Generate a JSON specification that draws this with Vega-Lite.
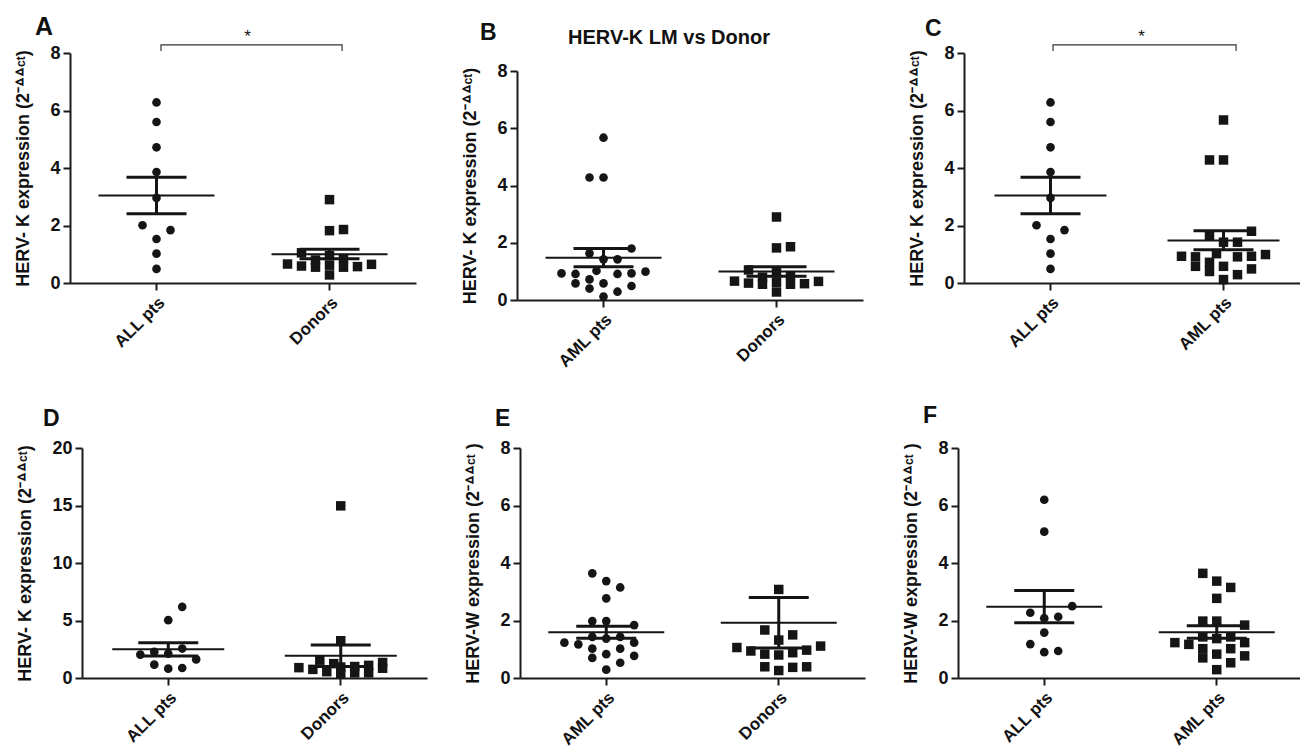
{
  "$schema": "https://vega.github.io/schema/vega-lite/v6.json",
  "autosize": "none",
  "padding": {"left": 70, "top": 53, "right": 1230, "bottom": 697},
  "background": "white",
  "datasets": {
    "A": [
      {"g":"ALL pts","v":6.28,"j":0},{"g":"ALL pts","v":5.6,"j":0},{"g":"ALL pts","v":4.72,"j":0},{"g":"ALL pts","v":3.86,"j":0},{"g":"ALL pts","v":2.96,"j":0},{"g":"ALL pts","v":2.01,"j":-1},{"g":"ALL pts","v":1.84,"j":1},{"g":"ALL pts","v":1.53,"j":0},{"g":"ALL pts","v":1.02,"j":0},{"g":"ALL pts","v":0.49,"j":0},
      {"g":"Donors","v":2.9,"j":0},{"g":"Donors","v":1.82,"j":0},{"g":"Donors","v":1.86,"j":1},{"g":"Donors","v":1.05,"j":-2},{"g":"Donors","v":0.8,"j":-1},{"g":"Donors","v":0.95,"j":0},{"g":"Donors","v":0.85,"j":1},{"g":"Donors","v":0.66,"j":-3},{"g":"Donors","v":0.59,"j":-2},{"g":"Donors","v":0.55,"j":-1},{"g":"Donors","v":0.62,"j":0},{"g":"Donors","v":0.55,"j":1},{"g":"Donors","v":0.57,"j":2},{"g":"Donors","v":0.65,"j":3},{"g":"Donors","v":0.28,"j":0}
    ],
    "As": [{"g":"ALL pts","m":3.04,"lo":2.41,"hi":3.68},{"g":"Donors","m":1.0,"lo":0.84,"hi":1.17}],
    "Aa": [{"g":"ALL pts","j":0.32,"y":8.07,"o":1},{"g":"ALL pts","j":0.32,"y":8.28,"o":2},{"g":"Donors","j":0.9,"y":8.28,"o":3},{"g":"Donors","j":0.9,"y":8.07,"o":4}],
    "At": [{"g":"ALL pts","j":6.5,"y":8.38,"t":"*"}],
    "B": [
      {"g":"AML pts","v":5.67,"j":0},{"g":"AML pts","v":4.28,"j":-1},{"g":"AML pts","v":4.28,"j":0},{"g":"AML pts","v":1.8,"j":2},{"g":"AML pts","v":1.63,"j":-1},{"g":"AML pts","v":1.42,"j":0},{"g":"AML pts","v":1.42,"j":1},{"g":"AML pts","v":0.93,"j":-3},{"g":"AML pts","v":0.91,"j":-2},{"g":"AML pts","v":1.02,"j":-0.5},{"g":"AML pts","v":0.91,"j":1},{"g":"AML pts","v":0.93,"j":2},{"g":"AML pts","v":0.99,"j":3},{"g":"AML pts","v":0.58,"j":-2},{"g":"AML pts","v":0.72,"j":-1},{"g":"AML pts","v":0.58,"j":0},{"g":"AML pts","v":0.49,"j":2},{"g":"AML pts","v":0.4,"j":-1},{"g":"AML pts","v":0.29,"j":1},{"g":"AML pts","v":0.12,"j":0},
      {"g":"Donors","v":2.9,"j":0},{"g":"Donors","v":1.82,"j":0},{"g":"Donors","v":1.86,"j":1},{"g":"Donors","v":1.05,"j":-2},{"g":"Donors","v":0.8,"j":-1},{"g":"Donors","v":0.95,"j":0},{"g":"Donors","v":0.85,"j":1},{"g":"Donors","v":0.66,"j":-3},{"g":"Donors","v":0.59,"j":-2},{"g":"Donors","v":0.55,"j":-1},{"g":"Donors","v":0.62,"j":0},{"g":"Donors","v":0.55,"j":1},{"g":"Donors","v":0.57,"j":2},{"g":"Donors","v":0.65,"j":3},{"g":"Donors","v":0.28,"j":0}
    ],
    "Bs": [{"g":"AML pts","m":1.48,"lo":1.16,"hi":1.8},{"g":"Donors","m":1.0,"lo":0.83,"hi":1.16}],
    "Bt": [{"g":"AML pts","j":4.68,"y":8.94,"t":"HERV-K LM vs Donor"}],
    "C": [
      {"g":"ALL pts","v":6.28,"j":0},{"g":"ALL pts","v":5.6,"j":0},{"g":"ALL pts","v":4.72,"j":0},{"g":"ALL pts","v":3.86,"j":0},{"g":"ALL pts","v":2.96,"j":0},{"g":"ALL pts","v":2.01,"j":-1},{"g":"ALL pts","v":1.84,"j":1},{"g":"ALL pts","v":1.53,"j":0},{"g":"ALL pts","v":1.02,"j":0},{"g":"ALL pts","v":0.49,"j":0},
      {"g":"AML pts","v":5.67,"j":0},{"g":"AML pts","v":4.28,"j":-1},{"g":"AML pts","v":4.28,"j":0},{"g":"AML pts","v":1.8,"j":2},{"g":"AML pts","v":1.63,"j":-1},{"g":"AML pts","v":1.42,"j":0},{"g":"AML pts","v":1.42,"j":1},{"g":"AML pts","v":0.93,"j":-3},{"g":"AML pts","v":0.91,"j":-2},{"g":"AML pts","v":1.02,"j":-0.5},{"g":"AML pts","v":0.91,"j":1},{"g":"AML pts","v":0.93,"j":2},{"g":"AML pts","v":0.99,"j":3},{"g":"AML pts","v":0.58,"j":-2},{"g":"AML pts","v":0.72,"j":-1},{"g":"AML pts","v":0.58,"j":0},{"g":"AML pts","v":0.49,"j":2},{"g":"AML pts","v":0.4,"j":-1},{"g":"AML pts","v":0.29,"j":1},{"g":"AML pts","v":0.12,"j":0}
    ],
    "Cs": [{"g":"ALL pts","m":3.04,"lo":2.41,"hi":3.68},{"g":"AML pts","m":1.48,"lo":1.16,"hi":1.82}],
    "Ca": [{"g":"ALL pts","j":0.18,"y":8.07,"o":1},{"g":"ALL pts","j":0.18,"y":8.28,"o":2},{"g":"AML pts","j":0.9,"y":8.28,"o":3},{"g":"AML pts","j":0.9,"y":8.07,"o":4}],
    "Ct": [{"g":"ALL pts","j":6.5,"y":8.38,"t":"*"}],
    "D": [
      {"g":"ALL pts","v":6.19,"j":1},{"g":"ALL pts","v":5.03,"j":0},{"g":"ALL pts","v":2.03,"j":-2},{"g":"ALL pts","v":2.27,"j":-1},{"g":"ALL pts","v":2.12,"j":0},{"g":"ALL pts","v":2.56,"j":1},{"g":"ALL pts","v":1.62,"j":2},{"g":"ALL pts","v":1.16,"j":-1},{"g":"ALL pts","v":0.81,"j":0},{"g":"ALL pts","v":0.87,"j":1},
      {"g":"Donors","v":14.97,"j":0},{"g":"Donors","v":3.24,"j":0},{"g":"Donors","v":0.9,"j":-3},{"g":"Donors","v":0.75,"j":-2},{"g":"Donors","v":1.55,"j":-1.5},{"g":"Donors","v":0.55,"j":-1},{"g":"Donors","v":1.25,"j":-0.5},{"g":"Donors","v":0.95,"j":0},{"g":"Donors","v":0.35,"j":0},{"g":"Donors","v":1.0,"j":1},{"g":"Donors","v":0.45,"j":1},{"g":"Donors","v":1.1,"j":2},{"g":"Donors","v":0.45,"j":2},{"g":"Donors","v":1.35,"j":3},{"g":"Donors","v":0.85,"j":3}
    ],
    "Ds": [{"g":"ALL pts","m":2.49,"lo":1.91,"hi":3.07},{"g":"Donors","m":1.94,"lo":1.0,"hi":2.87}],
    "E": [
      {"g":"AML pts","v":3.64,"j":-1},{"g":"AML pts","v":3.37,"j":0},{"g":"AML pts","v":3.15,"j":1},{"g":"AML pts","v":2.77,"j":0},{"g":"AML pts","v":1.98,"j":-1},{"g":"AML pts","v":1.98,"j":0},{"g":"AML pts","v":1.84,"j":2},{"g":"AML pts","v":1.23,"j":-3},{"g":"AML pts","v":1.17,"j":-2},{"g":"AML pts","v":1.43,"j":-1},{"g":"AML pts","v":1.37,"j":0},{"g":"AML pts","v":1.43,"j":1},{"g":"AML pts","v":1.23,"j":2},{"g":"AML pts","v":1.02,"j":-1},{"g":"AML pts","v":0.83,"j":0},{"g":"AML pts","v":1.02,"j":1},{"g":"AML pts","v":0.77,"j":2},{"g":"AML pts","v":0.7,"j":-1},{"g":"AML pts","v":0.53,"j":1},{"g":"AML pts","v":0.29,"j":0},
      {"g":"Donors","v":3.08,"j":0},{"g":"Donors","v":1.67,"j":-1},{"g":"Donors","v":1.5,"j":1},{"g":"Donors","v":1.32,"j":0},{"g":"Donors","v":1.06,"j":-3},{"g":"Donors","v":0.94,"j":-2},{"g":"Donors","v":0.83,"j":-1},{"g":"Donors","v":0.8,"j":0},{"g":"Donors","v":0.88,"j":1},{"g":"Donors","v":0.97,"j":2},{"g":"Donors","v":1.11,"j":3},{"g":"Donors","v":0.39,"j":-1},{"g":"Donors","v":0.26,"j":0},{"g":"Donors","v":0.37,"j":1},{"g":"Donors","v":0.39,"j":2}
    ],
    "Es": [{"g":"AML pts","m":1.59,"lo":1.38,"hi":1.8},{"g":"Donors","m":1.92,"lo":1.04,"hi":2.8}],
    "F": [
      {"g":"ALL pts","v":6.2,"j":0},{"g":"ALL pts","v":5.09,"j":0},{"g":"ALL pts","v":2.5,"j":2},{"g":"ALL pts","v":2.27,"j":-1},{"g":"ALL pts","v":2.08,"j":0},{"g":"ALL pts","v":2.13,"j":1},{"g":"ALL pts","v":1.58,"j":0},{"g":"ALL pts","v":1.18,"j":-1},{"g":"ALL pts","v":0.9,"j":0},{"g":"ALL pts","v":0.94,"j":1},
      {"g":"AML pts","v":3.64,"j":-1},{"g":"AML pts","v":3.37,"j":0},{"g":"AML pts","v":3.15,"j":1},{"g":"AML pts","v":2.77,"j":0},{"g":"AML pts","v":1.98,"j":-1},{"g":"AML pts","v":1.98,"j":0},{"g":"AML pts","v":1.84,"j":2},{"g":"AML pts","v":1.23,"j":-3},{"g":"AML pts","v":1.17,"j":-2},{"g":"AML pts","v":1.43,"j":-1},{"g":"AML pts","v":1.37,"j":0},{"g":"AML pts","v":1.43,"j":1},{"g":"AML pts","v":1.23,"j":2},{"g":"AML pts","v":1.02,"j":-1},{"g":"AML pts","v":0.83,"j":0},{"g":"AML pts","v":1.02,"j":1},{"g":"AML pts","v":0.77,"j":2},{"g":"AML pts","v":0.7,"j":-1},{"g":"AML pts","v":0.53,"j":1},{"g":"AML pts","v":0.29,"j":0}
    ],
    "Fs": [{"g":"ALL pts","m":2.48,"lo":1.92,"hi":3.04},{"g":"AML pts","m":1.59,"lo":1.38,"hi":1.82}]
  },
  "spacing": 35,
  "resolve": {"scale": {"xOffset": "independent"}},
  "vconcat": [
    {
      "hconcat": [
        {
          "width": 346, "height": 230,
          "title": {"text": "A", "fontSize": 25, "offset": 19, "dx": -35, "dy": 31},
          "encoding": {"x": {"field": "g", "type": "nominal", "title": null, "scale": {"type": "band", "domain": ["ALL pts", "Donors"], "paddingInner": 0, "paddingOuter": 0}}},
          "layer": [
            {"data": {"name": "A"}, "transform": [{"filter": "datum.g === 'ALL pts'"}], "mark": {"type": "circle"},
             "encoding": {"xOffset": {"field": "j", "type": "quantitative", "scale": {"domain": [-6.18, 6.18], "range": [0, 173]}},
                          "y": {"field": "v", "type": "quantitative", "scale": {"domain": [0, 8], "nice": false}, "axis": {"values": [0, 2, 4, 6, 8], "title": "HERV- K expression (2⁻ᐞᐞᶜᵗ)"}}}},
            {"data": {"name": "A"}, "transform": [{"filter": "datum.g === 'Donors'"}], "mark": {"type": "square"},
             "encoding": {"xOffset": {"field": "j", "type": "quantitative"}, "y": {"field": "v", "type": "quantitative"}}},
            {"data": {"name": "As"}, "mark": {"type": "rule", "strokeWidth": 3}, "encoding": {"y": {"field": "lo", "type": "quantitative"}, "y2": {"field": "hi"}}},
            {"data": {"name": "As"}, "mark": {"type": "tick", "size": 60, "thickness": 3}, "encoding": {"y": {"field": "lo", "type": "quantitative"}}},
            {"data": {"name": "As"}, "mark": {"type": "tick", "size": 60, "thickness": 3}, "encoding": {"y": {"field": "hi", "type": "quantitative"}}},
            {"data": {"name": "As"}, "mark": {"type": "tick", "size": 116, "thickness": 2}, "encoding": {"y": {"field": "m", "type": "quantitative"}}},
            {"data": {"name": "Aa"}, "mark": {"type": "line", "strokeWidth": 1.2, "clip": false}, "encoding": {"xOffset": {"field": "j", "type": "quantitative"}, "y": {"field": "y", "type": "quantitative"}, "order": {"field": "o", "type": "quantitative"}}},
            {"data": {"name": "At"}, "mark": {"type": "text", "fontSize": 17, "baseline": "alphabetic", "clip": false}, "encoding": {"xOffset": {"field": "j", "type": "quantitative"}, "y": {"field": "y", "type": "quantitative"}, "text": {"field": "t"}}}
          ]
        },
        {
          "width": 346, "height": 247,
          "title": {"text": "B", "offset": 13, "dx": -37, "dy": 30},
          "encoding": {"x": {"field": "g", "type": "nominal", "title": null, "scale": {"type": "band", "domain": ["AML pts", "Donors"], "paddingInner": 0, "paddingOuter": 0}}},
          "layer": [
            {"data": {"name": "B"}, "transform": [{"filter": "datum.g === 'AML pts'"}], "mark": {"type": "circle"},
             "encoding": {"xOffset": {"field": "j", "type": "quantitative", "scale": {"domain": [-6.18, 6.18], "range": [0, 173]}},
                          "y": {"field": "v", "type": "quantitative", "scale": {"domain": [0, 8], "nice": false, "range": [247, 18]}, "axis": {"values": [0, 2, 4, 6, 8], "title": "HERV- K expression (2⁻ᐞᐞᶜᵗ)"}}}},
            {"data": {"name": "B"}, "transform": [{"filter": "datum.g === 'Donors'"}], "mark": {"type": "square"},
             "encoding": {"xOffset": {"field": "j", "type": "quantitative"}, "y": {"field": "v", "type": "quantitative"}}},
            {"data": {"name": "Bs"}, "mark": {"type": "rule", "strokeWidth": 3}, "encoding": {"y": {"field": "lo", "type": "quantitative"}, "y2": {"field": "hi"}}},
            {"data": {"name": "Bs"}, "mark": {"type": "tick", "size": 60, "thickness": 3}, "encoding": {"y": {"field": "lo", "type": "quantitative"}}},
            {"data": {"name": "Bs"}, "mark": {"type": "tick", "size": 60, "thickness": 3}, "encoding": {"y": {"field": "hi", "type": "quantitative"}}},
            {"data": {"name": "Bs"}, "mark": {"type": "tick", "size": 116, "thickness": 2}, "encoding": {"y": {"field": "m", "type": "quantitative"}}},
            {"data": {"name": "Bt"}, "mark": {"type": "text", "fontSize": 20, "fontWeight": "bold", "align": "center", "baseline": "alphabetic", "clip": false}, "encoding": {"xOffset": {"field": "j", "type": "quantitative"}, "y": {"field": "y", "type": "quantitative"}, "text": {"field": "t"}}}
          ]
        },
        {
          "width": 346, "height": 230,
          "title": {"text": "C", "offset": 18, "dx": -39, "dy": 31},
          "encoding": {"x": {"field": "g", "type": "nominal", "title": null, "scale": {"type": "band", "domain": ["ALL pts", "AML pts"], "paddingInner": 0, "paddingOuter": 0}}},
          "layer": [
            {"data": {"name": "C"}, "transform": [{"filter": "datum.g === 'ALL pts'"}], "mark": {"type": "circle"},
             "encoding": {"xOffset": {"field": "j", "type": "quantitative", "scale": {"domain": [-6.18, 6.18], "range": [0, 173]}},
                          "y": {"field": "v", "type": "quantitative", "scale": {"domain": [0, 8], "nice": false}, "axis": {"values": [0, 2, 4, 6, 8], "title": "HERV- K expression (2⁻ᐞᐞᶜᵗ)"}}}},
            {"data": {"name": "C"}, "transform": [{"filter": "datum.g === 'AML pts'"}], "mark": {"type": "square"},
             "encoding": {"xOffset": {"field": "j", "type": "quantitative"}, "y": {"field": "v", "type": "quantitative"}}},
            {"data": {"name": "Cs"}, "mark": {"type": "rule", "strokeWidth": 3}, "encoding": {"y": {"field": "lo", "type": "quantitative"}, "y2": {"field": "hi"}}},
            {"data": {"name": "Cs"}, "mark": {"type": "tick", "size": 60, "thickness": 3}, "encoding": {"y": {"field": "lo", "type": "quantitative"}}},
            {"data": {"name": "Cs"}, "mark": {"type": "tick", "size": 60, "thickness": 3}, "encoding": {"y": {"field": "hi", "type": "quantitative"}}},
            {"data": {"name": "Cs"}, "mark": {"type": "tick", "size": 112, "thickness": 2}, "encoding": {"y": {"field": "m", "type": "quantitative"}}},
            {"data": {"name": "Ca"}, "mark": {"type": "line", "strokeWidth": 1.2, "clip": false}, "encoding": {"xOffset": {"field": "j", "type": "quantitative"}, "y": {"field": "y", "type": "quantitative"}, "order": {"field": "o", "type": "quantitative"}}},
            {"data": {"name": "Ct"}, "mark": {"type": "text", "fontSize": 17, "baseline": "alphabetic", "clip": false}, "encoding": {"xOffset": {"field": "j", "type": "quantitative"}, "y": {"field": "y", "type": "quantitative"}, "text": {"field": "t"}}}
          ]
        }
      ],
      "spacing": 101,
      "bounds": "flush",
      "resolve": {"scale": {"xOffset": "independent"}}
    },
    {
      "hconcat": [
        {
          "width": 357, "height": 230,
          "title": {"text": "D", "offset": 22, "dx": -27, "dy": 14},
          "encoding": {"x": {"field": "g", "type": "nominal", "title": null, "scale": {"type": "band", "domain": ["ALL pts", "Donors"], "paddingInner": 0, "paddingOuter": 0, "range": [12, 357]}}},
          "layer": [
            {"data": {"name": "D"}, "transform": [{"filter": "datum.g === 'ALL pts'"}], "mark": {"type": "circle"},
             "encoding": {"xOffset": {"field": "j", "type": "quantitative", "scale": {"domain": [-6.18, 6.18], "range": [0, 172.5]}},
                          "y": {"field": "v", "type": "quantitative", "scale": {"domain": [0, 20], "nice": false}, "axis": {"values": [0, 5, 10, 15, 20], "offset": -12, "title": "HERV- K expression (2⁻ᐞᐞᶜᵗ)"}}}},
            {"data": {"name": "D"}, "transform": [{"filter": "datum.g === 'Donors'"}], "mark": {"type": "square"},
             "encoding": {"xOffset": {"field": "j", "type": "quantitative"}, "y": {"field": "v", "type": "quantitative"}}},
            {"data": {"name": "Ds"}, "mark": {"type": "rule", "strokeWidth": 3}, "encoding": {"y": {"field": "lo", "type": "quantitative"}, "y2": {"field": "hi"}}},
            {"data": {"name": "Ds"}, "mark": {"type": "tick", "size": 60, "thickness": 3}, "encoding": {"y": {"field": "lo", "type": "quantitative"}}},
            {"data": {"name": "Ds"}, "mark": {"type": "tick", "size": 60, "thickness": 3}, "encoding": {"y": {"field": "hi", "type": "quantitative"}}},
            {"data": {"name": "Ds"}, "mark": {"type": "tick", "size": 112, "thickness": 2}, "encoding": {"y": {"field": "m", "type": "quantitative"}}}
          ]
        },
        {
          "width": 345, "height": 230,
          "title": {"text": "E", "offset": 22, "dx": -25, "dy": 14},
          "encoding": {"x": {"field": "g", "type": "nominal", "title": null, "scale": {"type": "band", "domain": ["AML pts", "Donors"], "paddingInner": 0, "paddingOuter": 0}}},
          "layer": [
            {"data": {"name": "E"}, "transform": [{"filter": "datum.g === 'AML pts'"}], "mark": {"type": "circle"},
             "encoding": {"xOffset": {"field": "j", "type": "quantitative", "scale": {"domain": [-6.18, 6.18], "range": [0, 172.5]}},
                          "y": {"field": "v", "type": "quantitative", "scale": {"domain": [0, 8], "nice": false}, "axis": {"values": [0, 2, 4, 6, 8], "title": "HERV-W expression (2⁻ᐞᐞᶜᵗ )"}}}},
            {"data": {"name": "E"}, "transform": [{"filter": "datum.g === 'Donors'"}], "mark": {"type": "square"},
             "encoding": {"xOffset": {"field": "j", "type": "quantitative"}, "y": {"field": "v", "type": "quantitative"}}},
            {"data": {"name": "Es"}, "mark": {"type": "rule", "strokeWidth": 3}, "encoding": {"y": {"field": "lo", "type": "quantitative"}, "y2": {"field": "hi"}}},
            {"data": {"name": "Es"}, "mark": {"type": "tick", "size": 60, "thickness": 3}, "encoding": {"y": {"field": "lo", "type": "quantitative"}}},
            {"data": {"name": "Es"}, "mark": {"type": "tick", "size": 60, "thickness": 3}, "encoding": {"y": {"field": "hi", "type": "quantitative"}}},
            {"data": {"name": "Es"}, "mark": {"type": "tick", "size": 116, "thickness": 2}, "encoding": {"y": {"field": "m", "type": "quantitative"}}}
          ]
        },
        {
          "width": 345, "height": 230,
          "title": {"text": "F", "offset": 25, "dx": -35, "dy": 14},
          "encoding": {"x": {"field": "g", "type": "nominal", "title": null, "scale": {"type": "band", "domain": ["ALL pts", "AML pts"], "paddingInner": 0, "paddingOuter": 0}}},
          "layer": [
            {"data": {"name": "F"}, "transform": [{"filter": "datum.g === 'ALL pts'"}], "mark": {"type": "circle"},
             "encoding": {"xOffset": {"field": "j", "type": "quantitative", "scale": {"domain": [-6.18, 6.18], "range": [0, 172.5]}},
                          "y": {"field": "v", "type": "quantitative", "scale": {"domain": [0, 8], "nice": false}, "axis": {"values": [0, 2, 4, 6, 8], "title": "HERV-W expression (2⁻ᐞᐞᶜᵗ )"}}}},
            {"data": {"name": "F"}, "transform": [{"filter": "datum.g === 'AML pts'"}], "mark": {"type": "square"},
             "encoding": {"xOffset": {"field": "j", "type": "quantitative"}, "y": {"field": "v", "type": "quantitative"}}},
            {"data": {"name": "Fs"}, "mark": {"type": "rule", "strokeWidth": 3}, "encoding": {"y": {"field": "lo", "type": "quantitative"}, "y2": {"field": "hi"}}},
            {"data": {"name": "Fs"}, "mark": {"type": "tick", "size": 60, "thickness": 3}, "encoding": {"y": {"field": "lo", "type": "quantitative"}}},
            {"data": {"name": "Fs"}, "mark": {"type": "tick", "size": 60, "thickness": 3}, "encoding": {"y": {"field": "hi", "type": "quantitative"}}},
            {"data": {"name": "Fs"}, "mark": {"type": "tick", "size": 116, "thickness": 2}, "encoding": {"y": {"field": "m", "type": "quantitative"}}}
          ]
        }
      ],
      "spacing": 93,
      "bounds": "flush",
      "resolve": {"scale": {"xOffset": "independent"}}
    }
  ],
  "config": {
    "view": {"stroke": null},
    "font": "Liberation Sans",
    "axis": {"grid": false, "domainColor": "#1a1a1a", "domainWidth": 2, "tickColor": "#1a1a1a", "tickWidth": 2, "tickSize": 7, "labelFont": "Liberation Sans", "labelFontSize": 18, "labelFontWeight": "bold", "labelColor": "#111", "labelPadding": 3, "titleFont": "Liberation Sans", "titleFontSize": 18, "titleFontWeight": "bold", "titleColor": "#111", "titlePadding": 17},
    "axisX": {"labelAngle": -45, "labelFontSize": 17, "labelPadding": 4},
    "title": {"anchor": "start", "frame": "group", "font": "Liberation Sans", "fontSize": 23, "fontWeight": "bold", "baseline": "alphabetic", "color": "#111"},
    "circle": {"color": "#151515", "opacity": 1, "size": 75},
    "square": {"color": "#151515", "opacity": 1, "size": 90},
    "tick": {"color": "#151515", "opacity": 1},
    "rule": {"color": "#151515"},
    "line": {"color": "#333"},
    "text": {"color": "#111", "font": "Liberation Sans"}
  }
}
